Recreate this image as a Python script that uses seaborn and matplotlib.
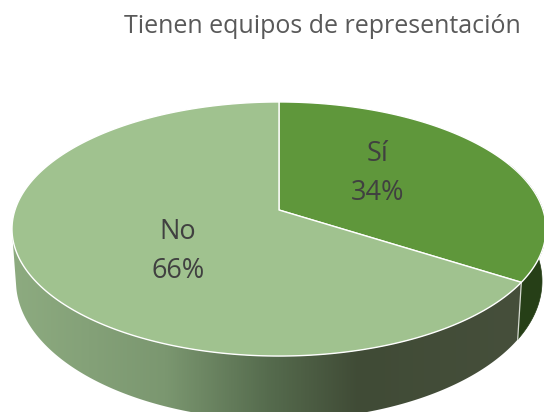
import numpy as np
import matplotlib
matplotlib.use("Agg")
import matplotlib.pyplot as plt
from matplotlib.colors import LinearSegmentedColormap
from matplotlib.patches import Polygon
import seaborn as sns

categories = ["Sí", "No"]
shares = [34, 66]
title = "Tienen equipos de representación"

sns.set_theme(style="white")
plt.rcParams["font.family"] = ["Open Sans", "DejaVu Sans"]
top_colors = sns.color_palette(["#5F973B", "#A0C28F"])
si_side = "#263F17"
side_cmap = LinearSegmentedColormap.from_list(
    "side", [(0.0, "#8DAB80"), (0.30, "#7B9770"), (0.50, "#566C4E"),
             (0.68, "#404B36"), (1.0, "#464F3B")])

W, H = 544, 412
fig = plt.figure(figsize=(W / 100, H / 100), dpi=100)
ax = fig.add_axes([0, 0, 1, 1])
ax.set_xlim(0, W)
ax.set_ylim(H, 0)
ax.axis("off")

CX, CY, SX, SY, B = 279.0, 210.0, 264.0, 124.2, 0.1496
DEPTH, SHRINK_X, STRETCH_Y = 50.4, 0.985, 1.093


def project(u, v, base=False):
    d = 1 + B * v
    x, y = SX * u / d, -SY * v / d
    if base:
        x, y = x * SHRINK_X, y * STRETCH_Y + DEPTH
    return CX + x, CY + y


def arc(t0, t1, n=240):
    t = np.linspace(t0, t1, n)
    return np.sin(t), np.cos(t)


fr = np.array(shares, float) / sum(shares)
edges = np.concatenate([[0], np.cumsum(fr)]) * 2 * np.pi
bound = edges[1]


def wall(t0, t1):
    u, v = arc(t0, t1)
    xa, ya = project(u, v)
    xb, yb = project(u, v, base=True)
    return np.column_stack([np.r_[xa, xb[::-1]], np.r_[ya, yb[::-1]]])


left_t = 2 * np.pi - np.arccos(-B) - 0.05
right_t = np.arccos(-B) + 0.05
si_wall = wall(right_t - 0.6, bound)
no_wall = wall(bound, left_t)

ax.add_patch(Polygon(si_wall, closed=True, fc=si_side, ec=si_side, lw=0.5, zorder=1))
grad = np.linspace(0, 1, 512).reshape(1, -1)
im = ax.imshow(grad, cmap=side_cmap, extent=(12, 522, 412, 230), aspect="auto",
               zorder=1, interpolation="bilinear")
ax.set_xlim(0, W)
ax.set_ylim(H, 0)
clip = Polygon(no_wall, closed=True, transform=ax.transData, fc="none", ec="none")
ax.add_patch(clip)
im.set_clip_path(clip)

sx0, sy0 = project(np.sin(bound), np.cos(bound))
sx1, sy1 = project(np.sin(bound), np.cos(bound), base=True)
ax.plot([sx0, sx1], [sy0, sy1], color="#D5D9D0", lw=0.9, zorder=2)

for i, c in enumerate(top_colors):
    u, v = arc(edges[i], edges[i + 1])
    xs, ys = project(np.r_[0, u], np.r_[0, v])
    ax.add_patch(Polygon(np.column_stack([xs, ys]), closed=True, fc=c,
                         ec="white", lw=1.0, joinstyle="round", zorder=3))

for i, (name, p) in enumerate(zip(categories, shares)):
    m = (edges[i] + edges[i + 1]) / 2
    lx, ly = project(0.43 * np.sin(m), 0.65 * np.cos(m))
    lx += 3.5
    ax.text(lx, ly - 19, name, ha="center", va="center", fontsize=19.5,
            color="#404040", zorder=4)
    ax.text(lx, ly + 20, f"{p}%", ha="center", va="center", fontsize=19.5,
            color="#404040", zorder=4)

ax.text(322, 26, title, ha="center", va="center", fontsize=18,
        color="#595959", zorder=4)

fig.savefig("out.png", dpi=100)
